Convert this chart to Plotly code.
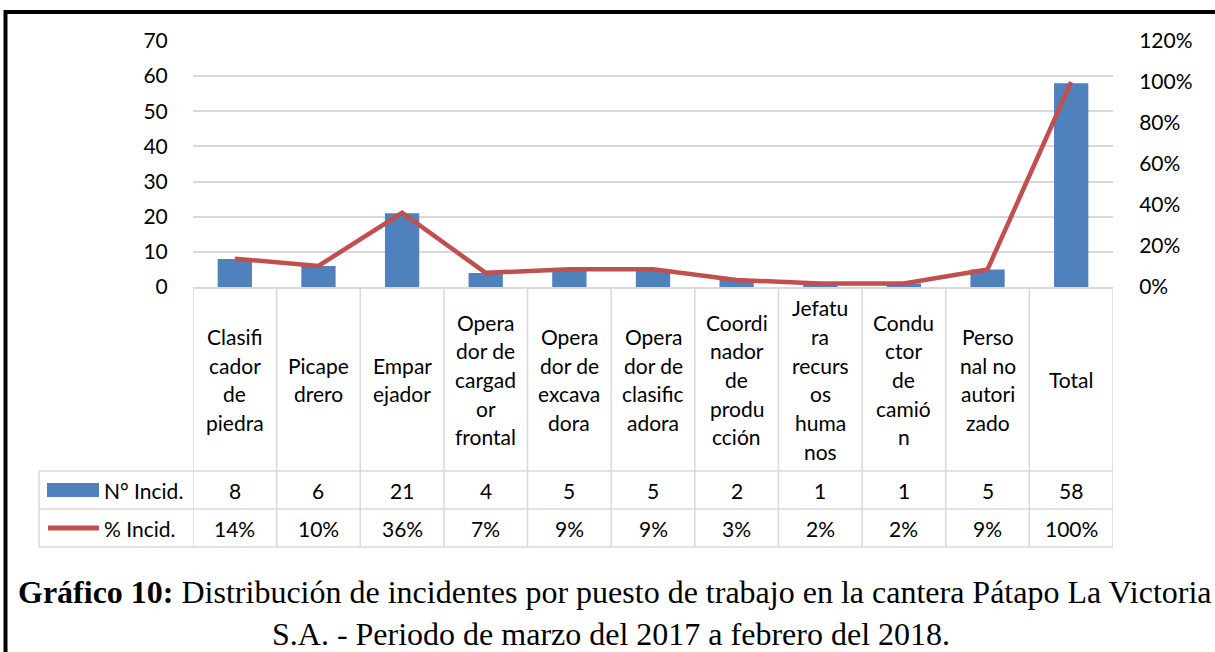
import plotly.graph_objects as go

# ---------------- data ----------------
categories = [
    "Clasificador de piedra", "Picapedrero", "Emparejador",
    "Operador de cargador frontal", "Operador de excavadora",
    "Operador de clasificadora", "Coordinador de producción",
    "Jefatura recursos humanos", "Conductor de camión",
    "Personal no autorizado", "Total",
]
category_lines = [
    ["Clasifi", "cador", "de", "piedra"],
    ["Picape", "drero"],
    ["Empar", "ejador"],
    ["Opera", "dor de", "cargad", "or", "frontal"],
    ["Opera", "dor de", "excava", "dora"],
    ["Opera", "dor de", "clasific", "adora"],
    ["Coordi", "nador", "de", "produ", "cción"],
    ["Jefatu", "ra", "recurs", "os", "huma", "nos"],
    ["Condu", "ctor", "de", "camió", "n"],
    ["Perso", "nal no", "autori", "zado"],
    ["Total"],
]
n_incid = [8, 6, 21, 4, 5, 5, 2, 1, 1, 5, 58]
pct_incid = [13.8, 10.3, 36.2, 6.9, 8.6, 8.6, 3.4, 1.7, 1.7, 8.6, 100.0]
pct_labels = ["14%", "10%", "36%", "7%", "9%", "9%", "3%", "2%", "2%", "9%", "100%"]
series_names = ["N° Incid.", "% Incid."]
caption_bold = "Gráfico 10:"
caption_1 = " Distribución de incidentes por puesto de trabajo en la cantera Pátapo La Victoria"
caption_2 = "S.A. - Periodo de marzo del 2017 a febrero del 2018."

# ---------------- geometry ----------------
W, H = 1215, 652
L, R, T, B = 193, 1113, 41, 287
BLUE = "#4f81bd"
RED = "#c0504d"
GRID = "#d9d9d9"
FONT = "Lato, Calibri, sans-serif"
FS = 21
SERIF = "Liberation Serif, Times New Roman, serif"


def px2x(px):
    return (px - L) / (R - L)


def py2y(py):
    return (B - py) / (B - T)


x_idx = list(range(len(categories)))

fig = go.Figure()
fig.add_trace(go.Bar(
    x=x_idx, y=n_incid, name=series_names[0],
    marker=dict(color=BLUE, line=dict(width=0)),
    width=0.41, yaxis="y",
))
fig.add_trace(go.Scatter(
    x=x_idx, y=[v / 100 for v in pct_incid], name=series_names[1],
    mode="lines", line=dict(color=RED, width=4.5), yaxis="y2",
))

shapes = []
annotations = []

# table horizontal lines
for py in (471, 509, 547):
    shapes.append(dict(type="line", xref="paper", yref="paper",
                       x0=px2x(39), x1=1, y0=py2y(py), y1=py2y(py),
                       line=dict(color=GRID, width=1.5), layer="below"))
# table vertical lines at category boundaries
for i in range(len(categories) + 1):
    shapes.append(dict(type="line", xref="x", yref="paper",
                       x0=i - 0.5, x1=i - 0.5, y0=py2y(287), y1=py2y(547),
                       line=dict(color=GRID, width=1.5), layer="below"))
# left edge of legend column
shapes.append(dict(type="line", xref="paper", yref="paper",
                   x0=px2x(39), x1=px2x(39), y0=py2y(471), y1=py2y(547),
                   line=dict(color=GRID, width=1.5), layer="below"))

# legend swatches
shapes.append(dict(type="rect", xref="paper", yref="paper",
                   x0=px2x(47), x1=px2x(99), y0=py2y(497), y1=py2y(483),
                   fillcolor=BLUE, line=dict(width=0)))
shapes.append(dict(type="line", xref="paper", yref="paper",
                   x0=px2x(48), x1=px2x(99), y0=py2y(528), y1=py2y(528),
                   line=dict(color=RED, width=5)))
annotations.append(dict(xref="paper", yref="paper", x=px2x(102), y=py2y(490),
                        text=series_names[0], showarrow=False, xanchor="left",
                        yanchor="middle", font=dict(family=FONT, size=FS, color="black")))
annotations.append(dict(xref="paper", yref="paper", x=px2x(102), y=py2y(528),
                        text=series_names[1], showarrow=False, xanchor="left",
                        yanchor="middle", font=dict(family=FONT, size=FS, color="black")))

# category labels
pitch = 28.7
center = 379.5
for i, lines in enumerate(category_lines):
    n = len(lines)
    for j, s in enumerate(lines):
        py = center + (j - (n - 1) / 2) * pitch
        annotations.append(dict(xref="x", yref="paper", x=i, y=py2y(py), text=s,
                                showarrow=False, xanchor="center", yanchor="middle",
                                font=dict(family=FONT, size=FS, color="black")))
# data rows
for i in x_idx:
    annotations.append(dict(xref="x", yref="paper", x=i, y=py2y(490), text=str(n_incid[i]),
                            showarrow=False, xanchor="center", yanchor="middle",
                            font=dict(family=FONT, size=FS, color="black")))
    annotations.append(dict(xref="x", yref="paper", x=i, y=py2y(528), text=pct_labels[i],
                            showarrow=False, xanchor="center", yanchor="middle",
                            font=dict(family=FONT, size=FS, color="black")))

# caption
annotations.append(dict(xref="paper", yref="paper", x=px2x(615), y=py2y(592),
                        text="<b>" + caption_bold + "</b>" + caption_1, showarrow=False,
                        xanchor="center", yanchor="middle",
                        font=dict(family=SERIF, size=32, color="black")))
annotations.append(dict(xref="paper", yref="paper", x=px2x(611), y=py2y(634),
                        text=caption_2, showarrow=False,
                        xanchor="center", yanchor="middle",
                        font=dict(family=SERIF, size=32, color="black")))

# outer black frame
shapes.append(dict(type="rect", xref="paper", yref="paper",
                   x0=px2x(5.5), x1=px2x(1240), y0=py2y(12), y1=py2y(700),
                   line=dict(color="black", width=4), fillcolor="rgba(0,0,0,0)"))

fig.update_layout(
    width=W, height=H,
    margin=dict(l=L, r=W - R, t=T, b=H - B, pad=0),
    paper_bgcolor="white", plot_bgcolor="white",
    showlegend=False, bargap=0.59,
    font=dict(family=FONT, size=FS, color="black"),
    xaxis=dict(range=[-0.5, len(categories) - 0.5], showticklabels=False,
               showgrid=False, zeroline=False, showline=True, linecolor=GRID,
               linewidth=1.5, ticks=""),
    yaxis=dict(range=[0, 70], dtick=10, showgrid=True, gridcolor=GRID, gridwidth=1.5,
               zeroline=False, showline=False, ticks="outside", ticklen=20,
               tickcolor="rgba(0,0,0,0)", tickfont=dict(family=FONT, size=FS, color="black")),
    yaxis2=dict(range=[0, 1.2], dtick=0.2, tickformat=".0%", overlaying="y", side="right",
                showgrid=False, zeroline=False, showline=False, ticks="outside", ticklen=21,
                tickcolor="rgba(0,0,0,0)", tickfont=dict(family=FONT, size=FS, color="black")),
    shapes=shapes, annotations=annotations,
)

fig.write_html(
    "out.html",
    config={"displayModeBar": False},
    post_script="document.body.style.margin='0';document.body.style.overflow='hidden';",
)
